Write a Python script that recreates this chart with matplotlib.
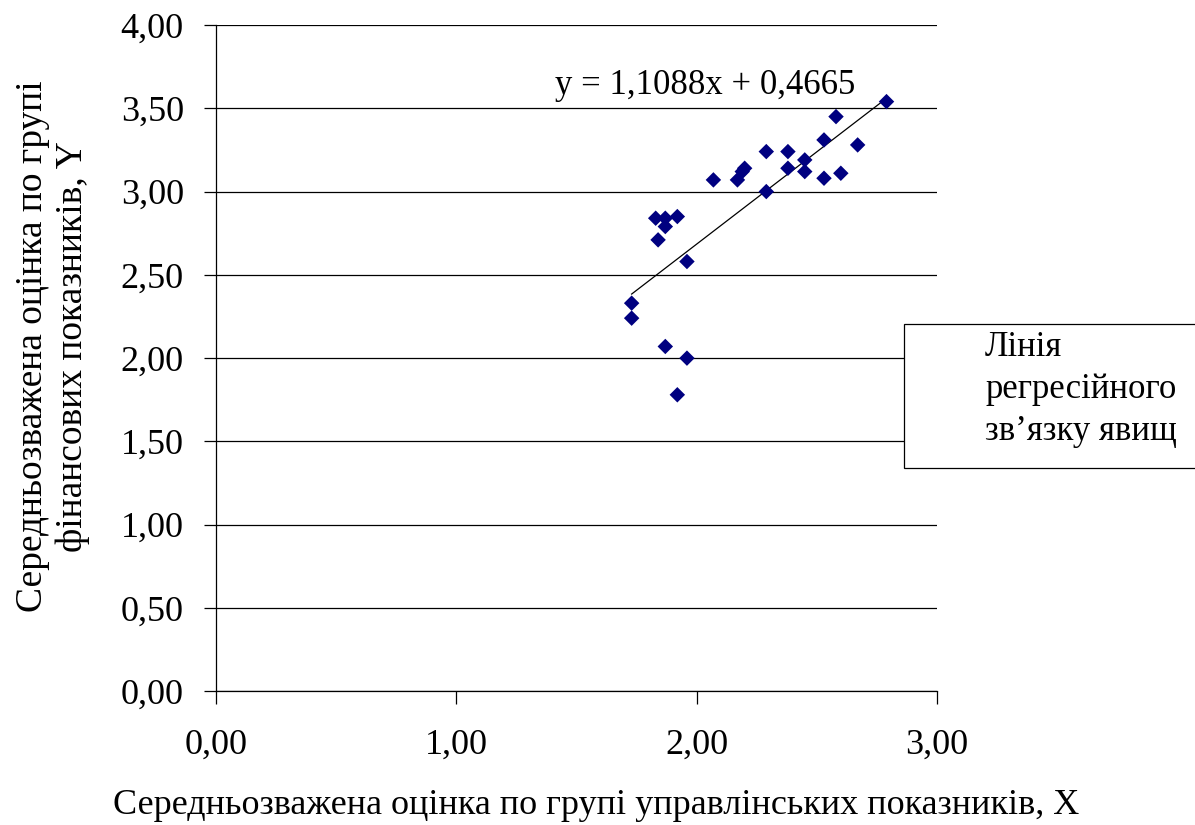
import matplotlib
matplotlib.use('Agg')

import matplotlib.pyplot as plt
from matplotlib.patches import Rectangle
from matplotlib.ticker import FuncFormatter, MultipleLocator


# scatter data
x_mgmt = [2.79, 2.58, 2.53, 2.67, 2.29, 2.38, 2.45, 2.20, 2.19, 2.38,
          2.45, 2.07, 2.17, 2.53, 2.60, 2.29, 1.83, 1.87, 1.92, 1.87,
          1.84, 1.96, 1.73, 1.73, 1.87, 1.96, 1.92]
y_fin = [3.54, 3.45, 3.31, 3.28, 3.24, 3.24, 3.19, 3.14, 3.12, 3.14,
         3.12, 3.07, 3.07, 3.08, 3.11, 3.00, 2.84, 2.84, 2.85, 2.79,
         2.71, 2.58, 2.33, 2.24, 2.07, 2.00, 1.78]

# trend line coefficients as printed on the chart
slope = 1.1088
intercept = 0.4665

x_label = "Середньозважена оцінка по групі управлінських показників, X"
y_label = "Середньозважена оцінка по групі\nфінансових показників, Y"
legend_label = "Лінія\nрегресійного\nзв’язку явищ"
equation = "y = 1,1088x + 0,4665"

FONT = 'Liberation Serif'
plt.rcParams['font.family'] = [FONT, 'DejaVu Serif']


def _comma(v, pos):
    return ("%.2f" % v).replace('.', ',')


fig = plt.figure(figsize=(11.95, 8.25), dpi=100)
ax = fig.add_axes([0.1805, 0.1621, 0.6036, 0.8076])

ax.set_xlim(0, 3)
ax.set_ylim(0, 4)
ax.xaxis.set_major_locator(MultipleLocator(1))
ax.yaxis.set_major_locator(MultipleLocator(0.5))
ax.xaxis.set_major_formatter(FuncFormatter(_comma))
ax.yaxis.set_major_formatter(FuncFormatter(_comma))

# gridlines
ax.grid(True, axis='y', color='black', linewidth=0.9)
ax.set_axisbelow(True)

for side in ('top', 'right'):
    ax.spines[side].set_visible(False)
for side in ('left', 'bottom'):
    ax.spines[side].set_linewidth(0.9)
    ax.spines[side].set_color('black')

ax.tick_params(axis='both', direction='out', length=9, width=0.9,
               labelsize=26, color='black')
ax.tick_params(axis='x', pad=18)
ax.tick_params(axis='y', pad=14)

# trend line over the data range
x_lo, x_hi = min(x_mgmt), max(x_mgmt)
ax.plot([x_lo, x_hi], [slope * x_lo + intercept, slope * x_hi + intercept],
        color='black', linewidth=0.9, zorder=2)

ax.scatter(x_mgmt, y_fin, marker='D', s=62, color='#000080',
           edgecolors='none', zorder=3)

ax.text(1.41, 3.54, equation, fontsize=25, ha='left', va='bottom')

ax.set_xlabel(x_label, fontsize=26)
ax.xaxis.set_label_coords(0.528, -0.147)
ax.set_ylabel(y_label, fontsize=27, linespacing=1.2)
ax.yaxis.set_label_coords(-0.174, 0.518)

# legend box
fig.patches.append(Rectangle((904 / 1195, 1 - 468 / 825), 0.3, 144 / 825,
                             transform=fig.transFigure, facecolor='white',
                             edgecolor='black', linewidth=0.9, zorder=5))
fig.text(985 / 1195, 1 - 331 / 825, legend_label, fontsize=25,
         ha='left', va='top', linespacing=1.36, zorder=6)

fig.savefig("out.png", dpi=100)
